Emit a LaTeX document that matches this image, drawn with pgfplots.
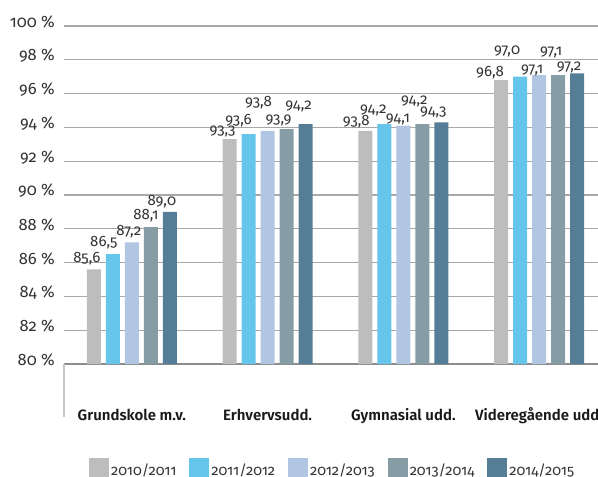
\documentclass[border=0pt]{standalone}
\usepackage{pgfplots}
\usepackage{pgfplotstable}
\pgfplotsset{compat=1.18}
\usepackage{fontspec}
\setmainfont{Fira Sans}[Numbers=OldStyle, BoldFont={* SemiBold}]
\definecolor{cA}{HTML}{BDBDBD}
\definecolor{cB}{HTML}{66C5EA}
\definecolor{cC}{HTML}{B1C6E2}
\definecolor{cD}{HTML}{879DA6}
\definecolor{cE}{HTML}{557E96}
\definecolor{txt}{HTML}{333333}
\definecolor{gridc}{HTML}{A8A8A8}

% x = category, y = value, lx/ly = label offset (bp) from bar top centre
\pgfplotstableread{
x y lx ly
0 85.6 -7 11
1 93.3 -7 8
2 93.8 -9 9
3 96.8 -11 7
}\sA
\pgfplotstableread{
x y lx ly
0 86.5 -9 11
1 93.6 -10 14
2 94.2 -11 14
3 97.0 -13 25
}\sB
\pgfplotstableread{
x y lx ly
0 87.2 -3 11
1 93.8 -9 28
2 94.1 -5.5 6
3 97.1 -7 5
}\sC
\pgfplotstableread{
x y lx ly
0 88.1 -5 11
1 93.9 -8 9
2 94.2 -8 23
3 97.1 -7 23
}\sD
\pgfplotstableread{
x y lx ly
0 89.0 -8 10
1 94.2 -7 18
2 94.3 -8 10
3 97.2 -8 6
}\sE

\begin{document}
\begin{tikzpicture}
\begin{axis}[
  name=ax,
  scale only axis,
  width=534bp, height=338bp,
  xmin=-0.5, xmax=3.434,
  ymin=80, ymax=100,
  ybar=5bp, bar width=14bp,
  axis x line*=bottom, axis y line*=left,
  y axis line style={draw=none},
  x axis line style={draw=black!45, line width=1.5bp},
  ytick={80,82,...,100},
  yticklabels={80 \%,82 \%,84 \%,86 \%,88 \%,90 \%,92 \%,94 \%,96 \%,98 \%,100 \%},
  yticklabel style={font=\fontsize{16.5bp}{19bp}\selectfont, text=txt, anchor=east, inner sep=0pt, xshift=-9bp, yshift=4bp},
  ytick style={draw=none},
  ymajorgrids,
  major grid style={draw=gridc, line width=1.2bp},
  xtick={0,1,2,3},
  xticklabels={Grundskole m.v., Erhvervsudd., Gymnasial udd., Videregående udd.},
  xticklabel style={font=\fontsize{15bp}{18bp}\selectfont\bfseries, text=black!90, anchor=base, inner sep=0pt, yshift=-52bp},
  xtick style={draw=none},
  extra x ticks={-0.5},
  extra x tick labels={},
  extra x tick style={tick align=outside, major tick length=53bp, xtick style={draw=black!22, line width=1.5bp}},
  visualization depends on={\thisrow{lx} \as \lblx},
  visualization depends on={\thisrow{ly} \as \lbly},
  point meta=y,
  nodes near coords={\pgfmathprintnumber[fixed, fixed zerofill, precision=1, use comma, assume math mode=true]{\pgfplotspointmeta}},
  every node near coord/.append style={font=\fontsize{15bp}{18bp}\selectfont, text=txt, anchor=center, inner sep=0pt, xshift=\lblx bp, yshift=\lbly bp},
  legend columns=5,
  legend style={draw=none, fill=none, at={(0,0)}, anchor=north west, xshift=25bp, yshift=-94bp, inner sep=0pt,
    font=\fontsize{14.5bp}{17bp}\selectfont, text=txt,
    /tikz/every even column/.append style={column sep=11bp}},
]
\addplot[fill=cA, draw=none, legend image code/.code={\fill[cA] (0bp,-8bp) rectangle (20bp,12bp);}] table[x=x,y=y] {\sA};
\addplot[fill=cB, draw=none, legend image code/.code={\fill[cB] (0bp,-8bp) rectangle (20bp,12bp);}] table[x=x,y=y] {\sB};
\addplot[fill=cC, draw=none, legend image code/.code={\fill[cC] (0bp,-8bp) rectangle (20bp,12bp);}] table[x=x,y=y] {\sC};
\addplot[fill=cD, draw=none, legend image code/.code={\fill[cD] (0bp,-8bp) rectangle (20bp,12bp);}] table[x=x,y=y] {\sD};
\addplot[fill=cE, draw=none, legend image code/.code={\fill[cE] (0bp,-8bp) rectangle (20bp,12bp);}] table[x=x,y=y] {\sE};
\legend{2010/2011, 2011/2012, 2012/2013, 2013/2014, 2014/2015}
\end{axis}
\pgfresetboundingbox
\useasboundingbox ([shift={(-64bp,-113bp)}]ax.south west) rectangle ([shift={(534bp,364bp)}]ax.south west);
\end{tikzpicture}
\end{document}
